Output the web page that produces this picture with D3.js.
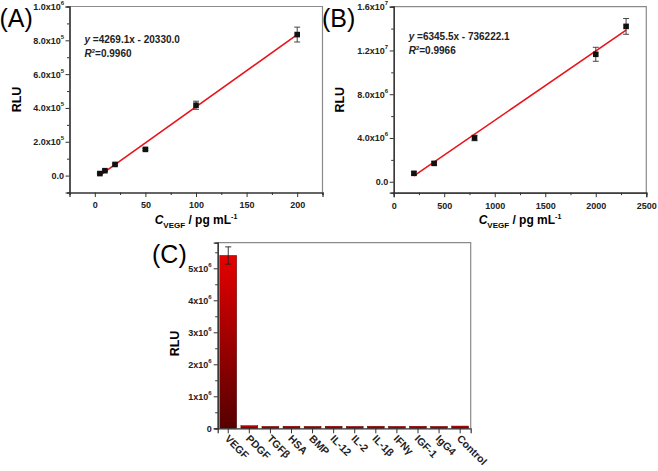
<!DOCTYPE html>
<html>
<head>
<meta charset="utf-8">
<script src="https://cdn.jsdelivr.net/npm/d3@7"></script>
<style>
  body { margin: 0; background: #fff; }
  svg { font-family: "Liberation Sans", Arial, sans-serif; }
  .tick text { font-weight: bold; font-size: 9px; fill: #222; }
</style>
</head>
<body>
<svg id="fig" width="658" height="471"></svg>
<script>
// ---- data ----
let concA = [5, 10, 20, 50, 100, 200];
let rluA = [12000, 29000, 66000, 155000, 416000, 834000];
let errA = [4000, 4000, 5000, 6000, 24000, 44000];
let fitA = [4269.1, -20330.0];

let concB = [200, 400, 800, 2000, 2300];
let rluB = [770000, 1680000, 4000000, 11650000, 14200000];
let errB = [150000, 150000, 250000, 640000, 720000];
let fitB = [6345.5, -736222.1];

let proteins = ["VEGF", "PDGF", "TGFβ", "HSA", "BMP", "IL-12", "IL-2", "IL-1β", "IFNγ", "IGF-1", "IgG4", "Control"];
let rluC = [5400000, 80000, 60000, 65000, 60000, 65000, 60000, 65000, 60000, 65000, 60000, 70000];
let errC = [270000, 0, 0, 0, 0, 0, 0, 0, 0, 0, 0, 0];

let yTicksA = [0, 2e5, 4e5, 6e5, 8e5, 1e6];
let yTicksB = [0, 4e6, 8e6, 1.2e7, 1.6e7];
let yTicksC = [0, 1e6, 2e6, 3e6, 4e6, 5e6];

const svg = d3.select("#fig");

// gradient for the bars
let grad = svg.append("defs").append("linearGradient")
    .attr("id", "barGrad")
    .attr("x1", 0).attr("y1", 0).attr("x2", 0).attr("y2", 1);
grad.append("stop").attr("offset", "0%").attr("stop-color", "#e60000");
grad.append("stop").attr("offset", "100%").attr("stop-color", "#560000");

// writes "a.bx10^n" style labels with a superscript
function sciLabel(sel, fmt) {
    sel.each(function(d) {
        let t = d3.select(this).text("");
        let s = fmt(d);
        t.append("tspan").text(s[0]);
        if (s[1] !== null) {
            t.append("tspan").attr("dy", -5).style("font-size", "6px").text(s[1]);
        }
    });
}

// e.g. 8e5 -> ["8.0x10", "5"]
function sciFmt(d) {
    if (d === 0) return ["0.0", null];
    let e = Math.floor(Math.log10(d) + 1e-9);
    return [(d / Math.pow(10, e)).toFixed(1) + "x10", String(e)];
}

function frame(g, w, h) {
    g.append("path")
        .attr("d", `M0,0H${w}V${h}`)
        .attr("fill", "none")
        .attr("stroke", "#8a8a8a")
        .attr("stroke-width", 1.2);
}

function yTitle(g, x, y) {
    g.append("text")
        .attr("transform", `translate(${x},${y}) rotate(-90)`)
        .style("text-anchor", "middle")
        .style("font-weight", "bold")
        .style("font-size", "12.5px")
        .text("RLU");
}

function xTitle(g, x, y) {
    let t = g.append("text")
        .attr("x", x).attr("y", y)
        .style("text-anchor", "middle")
        .style("font-weight", "bold")
        .style("font-size", "12px");
    t.append("tspan").style("font-style", "italic").text("C");
    t.append("tspan").attr("dy", 4).style("font-size", "8px").text("VEGF");
    t.append("tspan").attr("dy", -4).text(" / pg mL");
    t.append("tspan").attr("dy", -5).style("font-size", "7px").text("-1");
}

function panelLabel(x, y, s) {
    svg.append("text")
        .attr("x", x).attr("y", y)
        .style("font-size", "25px")
        .text(s);
}

function styleAxis(a) {
    a.select(".domain").attr("stroke", "#333").attr("stroke-width", 1.2);
    a.selectAll(".tick line").attr("stroke", "#333");
}

function create_calib(opts) {
    let w = opts.width, h = opts.height;
    let g = svg.append("g").attr("transform", `translate(${opts.left},${opts.top})`);

    let x = d3.scaleLinear().domain(opts.xDomain).range([0, w]);
    let y = d3.scaleLinear().domain(opts.yDomain).range([h, 0]);

    frame(g, w, h);

    // minor ticks
    g.append("g").attr("transform", `translate(0,${h})`)
        .call(d3.axisBottom(x).tickValues(opts.xMinor).tickSize(2.5).tickFormat(""))
        .call(styleAxis);
    g.append("g")
        .call(d3.axisLeft(y).tickValues(opts.yMinor).tickSize(2.5).tickFormat(""))
        .call(styleAxis);

    g.append("g").attr("transform", `translate(0,${h})`)
        .call(d3.axisBottom(x).tickValues(opts.xTicks).tickSize(4.5).tickPadding(5).tickFormat(d3.format("d")))
        .call(styleAxis);
    let ya = g.append("g")
        .call(d3.axisLeft(y).tickValues(opts.yTicks).tickSize(4).tickPadding(1.5))
        .call(styleAxis);
    ya.selectAll(".tick text").call(sciLabel, sciFmt);

    // fit line
    let x0 = d3.min(opts.conc), x1 = d3.max(opts.conc);
    g.append("line")
        .attr("x1", x(x0)).attr("y1", y(opts.fit[0] * x0 + opts.fit[1]))
        .attr("x2", x(x1)).attr("y2", y(opts.fit[0] * x1 + opts.fit[1]))
        .attr("stroke", "#e8141b")
        .attr("stroke-width", 1.6);

    let pts = opts.conc.map((c, i) => ({c: c, v: opts.rlu[i], e: opts.err[i]}));

    let eb = g.append("g").selectAll("g").data(pts).enter().append("g")
        .attr("stroke", "#333").attr("stroke-width", 0.9);
    eb.append("line")
        .attr("x1", d => x(d.c)).attr("x2", d => x(d.c))
        .attr("y1", d => y(d.v - d.e)).attr("y2", d => y(d.v + d.e));
    eb.append("line")
        .attr("x1", d => x(d.c) - 3).attr("x2", d => x(d.c) + 3)
        .attr("y1", d => y(d.v - d.e)).attr("y2", d => y(d.v - d.e));
    eb.append("line")
        .attr("x1", d => x(d.c) - 3).attr("x2", d => x(d.c) + 3)
        .attr("y1", d => y(d.v + d.e)).attr("y2", d => y(d.v + d.e));

    g.append("g").selectAll("rect").data(pts).enter().append("rect")
        .attr("x", d => x(d.c) - 2.8)
        .attr("y", d => y(d.v) - 2.8)
        .attr("width", 5.6).attr("height", 5.6)
        .attr("fill", "#111");

    // equation text
    let eq = g.append("text")
        .attr("x", opts.eqX).attr("y", opts.eqY)
        .style("font-size", "10px").style("font-weight", "bold").style("fill", "#222");
    eq.append("tspan").style("font-style", "italic").text("y");
    eq.append("tspan").text(" =" + opts.eqText);
    let r2 = g.append("text")
        .attr("x", opts.eqX).attr("y", opts.eqY + 14.5)
        .style("font-size", "10px").style("font-weight", "bold").style("fill", "#222");
    r2.append("tspan").style("font-style", "italic").text("R");
    r2.append("tspan").attr("dy", -4).style("font-size", "6px").text("2");
    r2.append("tspan").attr("dy", 4).text("=" + opts.r2);

    yTitle(g, opts.yTitleX, h / 2);
    xTitle(g, w / 2, h + 31);
}

create_calib({
    left: 69.5, top: 6.5, width: 253, height: 186,
    xDomain: [-25, 225], yDomain: [-1e5, 1e6],
    xTicks: [0, 50, 100, 150, 200], xMinor: [-25, 25, 75, 125, 175, 225],
    yTicks: yTicksA, yMinor: [-1e5, 1e5, 3e5, 5e5, 7e5, 9e5],
    conc: concA, rlu: rluA, err: errA, fit: fitA,
    eqX: 15, eqY: 36, eqText: "4269.1x - 20330.0", r2: "0.9960",
    yTitleX: -49
});

create_calib({
    left: 393.7, top: 6.7, width: 252.6, height: 186,
    xDomain: [0, 2500], yDomain: [-1e6, 1.6e7],
    xTicks: [0, 500, 1000, 1500, 2000, 2500], xMinor: [250, 750, 1250, 1750, 2250],
    yTicks: yTicksB, yMinor: [2e6, 6e6, 1e7, 1.4e7],
    conc: concB, rlu: rluB, err: errB, fit: fitB,
    eqX: 15, eqY: 33, eqText: "6345.5x - 736222.1", r2: "0.9966",
    yTitleX: -50
});

function create_bars() {
    let left = 217.7, top = 242.7, w = 253, h = 185.6;
    let g = svg.append("g").attr("transform", `translate(${left},${top})`);

    let x = d3.scaleBand().domain(proteins).range([0, w]).paddingInner(0.2).paddingOuter(0.1);
    let y = d3.scaleLinear().domain([0, 5.8e6]).range([h, 0]);

    frame(g, w, h);

    let data = proteins.map((p, i) => ({p: p, v: rluC[i], e: errC[i]}));

    g.append("g").selectAll("rect").data(data).enter().append("rect")
        .attr("x", d => x(d.p))
        .attr("y", d => y(d.v))
        .attr("width", x.bandwidth())
        .attr("height", d => h - y(d.v))
        .attr("fill", "url(#barGrad)")
        .attr("stroke", "#4a0000")
        .attr("stroke-width", 0.5);

    let eb = g.append("g").selectAll("g").data(data.filter(d => d.e > 0)).enter().append("g")
        .attr("stroke", "#222").attr("stroke-width", 0.9);
    let cx = d => x(d.p) + x.bandwidth() / 2;
    eb.append("line").attr("x1", cx).attr("x2", cx)
        .attr("y1", d => y(d.v - d.e)).attr("y2", d => y(d.v + d.e));
    eb.append("line").attr("x1", d => cx(d) - 3).attr("x2", d => cx(d) + 3)
        .attr("y1", d => y(d.v - d.e)).attr("y2", d => y(d.v - d.e));
    eb.append("line").attr("x1", d => cx(d) - 3).attr("x2", d => cx(d) + 3)
        .attr("y1", d => y(d.v + d.e)).attr("y2", d => y(d.v + d.e));

    g.append("g")
        .call(d3.axisLeft(y).tickValues([5e5, 1.5e6, 2.5e6, 3.5e6, 4.5e6, 5.5e6]).tickSize(2.5).tickFormat(""))
        .call(styleAxis);
    let ya = g.append("g")
        .call(d3.axisLeft(y).tickValues(yTicksC).tickSize(4).tickPadding(2))
        .call(styleAxis);
    ya.selectAll(".tick text").call(sciLabel, d => d === 0 ? ["0", null] : [(d / 1e6) + "x10", "6"]);

    let xa = g.append("g").attr("transform", `translate(0,${h})`)
        .call(d3.axisBottom(x).tickSize(5))
        .call(styleAxis);
    xa.selectAll(".tick text")
        .attr("transform", "translate(0,7) rotate(45)")
        .attr("y", 2).attr("x", 0).attr("dy", "0.35em")
        .style("font-size", "10.5px")
        .style("text-anchor", "start");

    yTitle(g, -39, h / 2 + 8);
}

create_bars();

panelLabel(-0.5, 27, "(A)");
panelLabel(322, 27, "(B)");
panelLabel(152, 263, "(C)");
</script>
</body>
</html>
